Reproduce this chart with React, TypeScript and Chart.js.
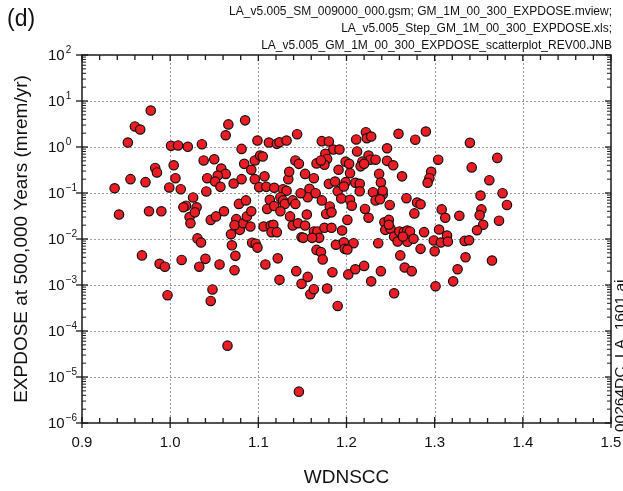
import React, { useEffect, useRef } from "react";
import { Chart, registerables } from "chart.js";
Chart.register(...registerables);

const wdnscc = [
  0.978, 0.960, 0.966, 1.066, 1.085, 1.063, 0.952, 1.001, 1.009, 1.020,
  1.036, 1.081, 1.099, 1.112, 1.121, 1.124, 1.132, 1.144, 1.038, 1.050,
  1.084, 1.096, 1.102, 1.105, 1.004, 0.983, 0.985, 1.058, 1.063, 1.054,
  1.042, 1.051, 1.092, 0.955, 0.972, 0.937, 1.006, 0.999, 1.012, 1.072,
  1.081, 1.096, 1.107, 1.057, 1.041, 1.101, 1.109, 1.118, 1.128, 1.132,
  1.134, 1.135, 1.142, 1.146, 1.026, 1.018, 1.015, 1.030, 1.078, 1.086,
  1.113, 1.125, 1.128, 1.130, 1.139, 0.942, 0.976, 0.990, 1.022, 1.023,
  1.028, 1.046, 1.052, 1.061, 1.075, 1.079, 1.073, 1.083, 1.087, 1.092,
  1.091, 1.069, 1.110, 1.118, 1.125, 1.106, 1.114, 1.117, 1.115, 1.121,
  1.136, 1.139, 1.145, 1.149, 1.031, 1.035, 1.070, 1.074, 1.073, 1.093,
  1.097, 1.099, 0.968, 0.988, 0.994, 1.013, 1.033, 1.040, 1.056, 1.108,
  1.122, 1.143, 1.124, 1.149, 1.048, 1.046, 0.997, 1.065, 1.146, 1.172,
  1.180, 1.211, 1.222, 1.223, 1.228, 1.259, 1.278, 1.290, 1.340, 1.185,
  1.192, 1.176, 1.178, 1.175, 1.166, 1.171, 1.212, 1.199, 1.203, 1.191,
  1.204, 1.225, 1.227, 1.233, 1.218, 1.216, 1.220, 1.246, 1.246, 1.253,
  1.237, 1.239, 1.263, 1.304, 1.296, 1.294, 1.292, 1.342, 1.371, 1.362,
  1.352, 1.377, 1.382, 1.153, 1.163, 1.180, 1.187, 1.199, 1.210, 1.215,
  1.215, 1.158, 1.156, 1.148, 1.165, 1.172, 1.190, 1.194, 1.197, 1.204,
  1.206, 1.230, 1.233, 1.241, 1.241, 1.238, 1.221, 1.181, 1.249, 1.268,
  1.280, 1.284, 1.308, 1.353, 1.142, 1.155, 1.177, 1.183, 1.153, 1.151,
  1.163, 1.167, 1.169, 1.175, 1.183, 1.195, 1.161, 1.188, 1.197, 1.208,
  1.198, 1.201, 1.166, 1.171, 1.173, 1.201, 1.225, 1.243, 1.248, 1.244,
  1.250, 1.248, 1.236, 1.254, 1.260, 1.265, 1.269, 1.272, 1.258, 1.269,
  1.276, 1.264, 1.277, 1.288, 1.284, 1.299, 1.300, 1.261, 1.266, 1.274,
  1.305, 1.312, 1.314, 1.307, 1.315, 1.328, 1.351, 1.355, 1.348, 1.373,
  1.334, 1.339, 1.335, 1.365, 1.326, 1.321, 1.301, 1.156, 1.159, 1.163,
  1.178, 1.190, 1.184, 1.202, 1.210, 1.220, 1.239, 1.228, 1.254,
];

const expdose = [
  6.2, 2.8, 2.4, 3.1, 3.8, 1.8, 1.25, 1.06, 1.08, 1.01,
  1.15, 0.91, 1.38, 1.25, 1.17, 1.27, 1.38, 1.9, 0.51, 0.54,
  0.43, 0.51, 0.65, 0.62, 0.40, 0.35, 0.28, 0.34, 0.26, 0.24,
  0.21, 0.178, 0.32, 0.20, 0.172, 0.127, 0.21, 0.132, 0.121, 0.161,
  0.20, 0.20, 0.23, 0.136, 0.108, 0.134, 0.136, 0.130, 0.121, 0.112,
  0.20, 0.29, 0.51, 0.43, 0.080, 0.053, 0.049, 0.049, 0.058, 0.069,
  0.071, 0.081, 0.069, 0.058, 0.069, 0.034, 0.040, 0.040, 0.030, 0.022,
  0.038, 0.026, 0.031, 0.040, 0.027, 0.0158, 0.020, 0.022, 0.031, 0.040,
  0.0187, 0.0127, 0.045, 0.052, 0.040, 0.0187, 0.0196, 0.0204, 0.0141, 0.0141,
  0.031, 0.0196, 0.022, 0.0109, 0.0103, 0.0084, 0.0073, 0.0043, 0.0021, 0.0083,
  0.0079, 0.0065, 0.0044, 0.0029, 0.0025, 0.0035, 0.0025, 0.0037, 0.0028, 0.0028,
  0.0038, 0.0020, 0.0013, 0.00106, 0.00080, 0.00045, 0.00060, 4.8e-5, 4.8e-6, 1.34,
  1.32, 1.46, 2.1, 1.55, 1.69, 1.94, 1.44, 2.17, 1.23, 0.88,
  0.88, 0.71, 0.55, 0.41, 0.44, 0.51, 0.80, 0.48, 0.43, 0.32,
  0.27, 0.65, 0.53, 0.53, 0.48, 0.38, 0.43, 0.94, 0.50, 0.40,
  0.26, 0.169, 0.23, 0.53, 0.29, 0.21, 0.167, 0.36, 0.58, 0.19,
  0.088, 0.099, 0.055, 0.26, 0.21, 0.158, 0.178, 0.172, 0.167, 0.158,
  0.109, 0.123, 0.081, 0.099, 0.099, 0.069, 0.109, 0.076, 0.138, 0.071,
  0.053, 0.104, 0.069, 0.093, 0.112, 0.073, 0.045, 0.051, 0.055, 0.077,
  0.062, 0.057, 0.044, 0.044, 0.058, 0.034, 0.035, 0.038, 0.0196, 0.0106,
  0.0146, 0.0146, 0.0106, 0.0175, 0.0175, 0.0153, 0.0106, 0.0075, 0.0085, 0.0081,
  0.0061, 0.0059, 0.0058, 0.0052, 0.0036, 0.026, 0.029, 0.023, 0.026, 0.0158,
  0.0167, 0.0204, 0.0081, 0.0113, 0.0146, 0.0141, 0.0153, 0.0146, 0.0088, 0.0087,
  0.0101, 0.0113, 0.036, 0.0141, 0.0061, 0.0093, 0.0054, 0.0044, 0.0024, 0.0020,
  0.0161, 0.029, 0.0119, 0.0084, 0.0088, 0.032, 0.033, 0.0204, 0.0155, 0.025,
  0.0091, 0.0094, 0.0040, 0.0034, 0.0022, 0.0012, 0.00094, 0.0015, 0.00063, 0.00081,
  0.00084, 0.00035, 0.0019, 0.0017, 0.0022, 0.0026, 0.0020, 0.0012, 0.00066,
];

const xTickValues = [0.9, 1.0, 1.1, 1.2, 1.3, 1.4, 1.5];
const xTickLabels = ["0.9", "1.0", "1.1", "1.2", "1.3", "1.4", "1.5"];
const yExponents = [2, 1, 0, -1, -2, -3, -4, -5, -6];
const yExponentLabels = ["2", "1", "0", "\u22121", "\u22122", "\u22123", "\u22124", "\u22125", "\u22126"];
const headerLines = [
  "LA_v5.005_SM_009000_000.gsm; GM_1M_00_300_EXPDOSE.mview;",
  "LA_v5.005_Step_GM_1M_00_300_EXPDOSE.xls;",
  "LA_v5.005_GM_1M_00_300_EXPDOSE_scatterplot_REV00.JNB",
];
const panelLabel = "(d)";
const xTitle = "WDNSCC";
const yTitle = "EXPDOSE at 500,000 Years (mrem/yr)";
const sideLabel = "00264DC_LA_1601.ai";

const FONT = "'Liberation Sans', Arial, Helvetica, sans-serif";

const decoPlugin = {
  id: "deco",
  beforeDatasetsDraw(chart: any) {
    const { ctx, chartArea: a, scales } = chart;
    const x = scales.x;
    const y = scales.y;
    ctx.save();
    ctx.strokeStyle = "#9c9c9c";
    ctx.lineWidth = 1;
    ctx.setLineDash([2, 2]);
    for (const v of xTickValues) {
      const px = Math.round(x.getPixelForValue(v)) + 0.5;
      if (px <= a.left + 2 || px >= a.right - 2) continue;
      ctx.beginPath();
      ctx.moveTo(px, a.top);
      ctx.lineTo(px, a.bottom);
      ctx.stroke();
    }
    for (const e of yExponents) {
      const py = Math.round(y.getPixelForValue(Math.pow(10, e))) + 0.5;
      if (py <= a.top + 2 || py >= a.bottom - 2) continue;
      ctx.beginPath();
      ctx.moveTo(a.left, py);
      ctx.lineTo(a.right, py);
      ctx.stroke();
    }
    ctx.restore();
  },
  afterDatasetsDraw(chart: any) {
    const { ctx, chartArea: a, scales } = chart;
    const x = scales.x;
    const y = scales.y;
    ctx.save();
    ctx.setLineDash([]);
    ctx.strokeStyle = "#1a1a1a";
    ctx.lineWidth = 1.3;
    const seg = (x1: number, y1: number, x2: number, y2: number) => {
      ctx.beginPath();
      ctx.moveTo(x1, y1);
      ctx.lineTo(x2, y2);
      ctx.stroke();
    };
    // x ticks
    for (let i = 0; i < xTickValues.length; i++) {
      const px = x.getPixelForValue(xTickValues[i]);
      seg(px, a.bottom + 5, px, a.bottom - 6);
      seg(px, a.top, px, a.top + 6);
      if (i < xTickValues.length - 1) {
        for (let k = 1; k < 5; k++) {
          const v = xTickValues[i] + ((xTickValues[i + 1] - xTickValues[i]) * k) / 5;
          const pm = x.getPixelForValue(v);
          seg(pm, a.bottom, pm, a.bottom - 5);
          seg(pm, a.top, pm, a.top + 5);
        }
      }
    }
    // y ticks
    for (let i = 0; i < yExponents.length; i++) {
      const e = yExponents[i];
      const py = y.getPixelForValue(Math.pow(10, e));
      ctx.lineWidth = 1.3;
      seg(a.left - 6, py, a.left + 6, py);
      seg(a.right, py, a.right - 6, py);
      ctx.lineWidth = 1;
      if (i < yExponents.length - 1) {
        for (let m = 2; m < 10; m++) {
          const pm = y.getPixelForValue(m * Math.pow(10, e - 1));
          seg(a.left, pm, a.left + 4, pm);
          seg(a.right, pm, a.right - 4, pm);
        }
      }
    }
    // frame
    ctx.lineWidth = 1.5;
    ctx.strokeRect(a.left, a.top, a.right - a.left, a.bottom - a.top);

    ctx.fillStyle = "#111";
    // x tick labels
    ctx.font = `15px ${FONT}`;
    ctx.textAlign = "center";
    ctx.textBaseline = "middle";
    xTickValues.forEach((v, i) => {
      ctx.fillText(xTickLabels[i], x.getPixelForValue(v), a.bottom + 20);
    });
    // y tick labels
    yExponents.forEach((e, i) => {
      const py = y.getPixelForValue(Math.pow(10, e));
      ctx.font = `15px ${FONT}`;
      ctx.textAlign = "left";
      ctx.textBaseline = "middle";
      const bx = 48;
      ctx.fillText("10", bx, py + 1);
      const w = ctx.measureText("10").width;
      ctx.font = `10px ${FONT}`;
      ctx.fillText(yExponentLabels[i], bx + w + 1, py - 5);
    });
    // axis titles
    ctx.font = `19px ${FONT}`;
    ctx.textAlign = "center";
    ctx.textBaseline = "middle";
    ctx.fillText(xTitle, (a.left + a.right) / 2, 478);
    ctx.save();
    ctx.translate(22, (a.top + a.bottom) / 2);
    ctx.rotate(-Math.PI / 2);
    ctx.fillText(yTitle, 0, 0);
    ctx.restore();
    // panel label
    ctx.font = `23px ${FONT}`;
    ctx.textAlign = "left";
    ctx.fillText(panelLabel, 7, 20);
    // header
    ctx.font = `12px ${FONT}`;
    ctx.textAlign = "right";
    headerLines.forEach((t, i) => {
      ctx.fillText(t, 612, 12 + i * 17);
    });
    // side label
    ctx.save();
    ctx.font = `15.5px ${FONT}`;
    ctx.translate(625, 432);
    ctx.rotate(-Math.PI / 2);
    ctx.textAlign = "left";
    ctx.textBaseline = "alphabetic";
    ctx.fillText(sideLabel, 0, 0);
    ctx.restore();
    ctx.restore();
  },
};

export default function App() {
  const ref = useRef<HTMLCanvasElement | null>(null);
  useEffect(() => {
    if (!ref.current) return;
    const data = wdnscc.map((v, i) => ({ x: v, y: expdose[i] }));
    const chart = new Chart(ref.current, {
      type: "scatter",
      data: {
        datasets: [
          {
            data,
            backgroundColor: "#ec1c24",
            borderColor: "#111",
            borderWidth: 1.2,
            pointRadius: 4.7,
            pointHoverRadius: 4.7,
          },
        ],
      },
      options: {
        animation: false,
        responsive: false,
        devicePixelRatio: 1,
        events: [],
        layout: { padding: { top: 55, right: 12, left: 0, bottom: 0 } },
        plugins: { legend: { display: false }, tooltip: { enabled: false } },
        scales: {
          x: {
            type: "linear",
            min: 0.9,
            max: 1.5,
            grid: { display: false },
            border: { display: false },
            ticks: { display: false },
            afterFit: (s: any) => {
              s.height = 68;
            },
          },
          y: {
            type: "logarithmic",
            min: 1e-6,
            max: 100,
            grid: { display: false },
            border: { display: false },
            ticks: { display: false },
            afterFit: (s: any) => {
              s.width = 82;
            },
          },
        },
      },
      plugins: [decoPlugin],
    } as any);
    return () => chart.destroy();
  }, []);
  return (
    <div style={{ position: "fixed", left: 0, top: 0, width: 623, height: 491, background: "#fff" }}>
      <canvas ref={ref} width={623} height={491} style={{ display: "block" }} />
    </div>
  );
}
